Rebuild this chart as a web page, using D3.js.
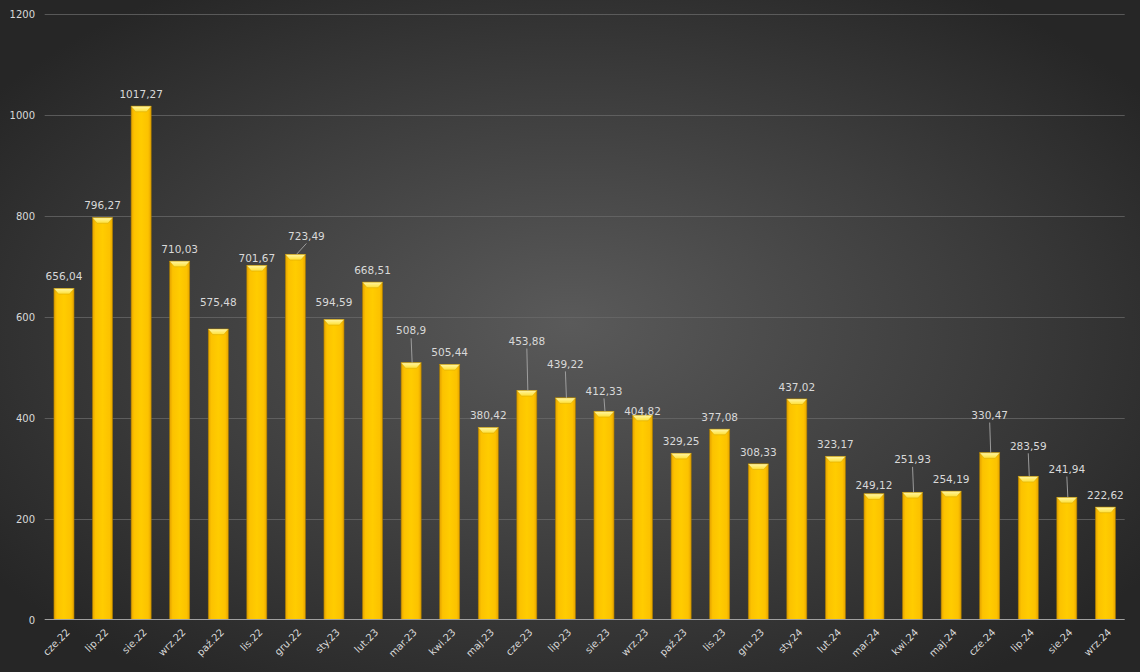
<!DOCTYPE html>
<html>
<head>
<meta charset="utf-8">
<script src="https://cdn.jsdelivr.net/npm/d3@7"></script>
<style>
  html, body { margin: 0; padding: 0; background: #2b2b2b; }
  svg { display: block; }
  text { font-family: "DejaVu Sans", sans-serif; }
</style>
</head>
<body>
<svg id="chart" width="1140" height="672"></svg>
<script>
// ---- data ----
const categories = ["cze.22","lip.22","sie.22","wrz.22","paź.22","lis.22","gru.22","sty.23","lut.23","mar.23","kwi.23","maj.23","cze.23","lip.23","sie.23","wrz.23","paź.23","lis.23","gru.23","sty.24","lut.24","mar.24","kwi.24","maj.24","cze.24","lip.24","sie.24","wrz.24"];
const values = [656.04,796.27,1017.27,710.03,575.48,701.67,723.49,594.59,668.51,508.9,505.44,380.42,453.88,439.22,412.33,404.82,329.25,377.08,308.33,437.02,323.17,249.12,251.93,254.19,330.47,283.59,241.94,222.62];
const yTicks = [0,200,400,600,800,1000,1200];

// ---- layout: label placement tweaks (dx, dy relative to default, leader line) ----
const labelTweaks = {
  "paź.22": {dy: -15},
  "lis.22": {dy: 4.5},
  "gru.22": {dx: 11, dy: -6.5, leader: true},
  "sty.23": {dy: -5.5},
  "mar.23": {dy: -20, leader: true},
  "cze.23": {dy: -37.5, leader: true},
  "lip.23": {dy: -22, leader: true},
  "sie.23": {dy: -8.5, leader: true},
  "wrz.23": {dy: 7.8},
  "mar.24": {dy: 3.7},
  "kwi.24": {dy: -21, leader: true},
  "cze.24": {dy: -25.7, leader: true},
  "lip.24": {dy: -18.6, leader: true},
  "sie.24": {dy: -16.4, leader: true}
};

const W = 1140, H = 672;
const svg = d3.select("#chart");
const defs = svg.append("defs");

// background
const bg = defs.append("radialGradient").attr("id","bg")
  .attr("cx","0.5").attr("cy","0.5").attr("r","0.62")
  .attr("fx","0.5").attr("fy","0.48");
bg.append("stop").attr("offset","0").attr("stop-color","#5a5a5a");
bg.append("stop").attr("offset","0.55").attr("stop-color","#3e3e3e");
bg.append("stop").attr("offset","1").attr("stop-color","#262626");
svg.append("rect").attr("width",W).attr("height",H).attr("fill","url(#bg)");

// bar gradients
const sideGrad = defs.append("linearGradient").attr("id","barSide").attr("x1","0").attr("x2","1").attr("y1","0").attr("y2","0");
[["0","#e5a200"],["0.15","#fcc200"],["0.5","#ffcc00"],["0.85","#fcc200"],["1","#e5a200"]]
  .forEach(([o,c]) => sideGrad.append("stop").attr("offset",o).attr("stop-color",c));
const topGrad = defs.append("linearGradient").attr("id","barTop").attr("x1","0").attr("x2","0").attr("y1","0").attr("y2","1");
topGrad.append("stop").attr("offset","0").attr("stop-color","#fff6a8");
topGrad.append("stop").attr("offset","1").attr("stop-color","#ffe033");

const x = d3.scaleBand().domain(categories).range([44.7, 1124.7]).paddingInner(0.48).paddingOuter(0.24);
const y = d3.scaleLinear().domain([0, 1200]).range([619.5, 14]);

// gridlines
svg.append("g").selectAll("line").data(yTicks.filter(d => d > 0)).join("line")
  .attr("x1", 44.7).attr("x2", 1124.7)
  .attr("y1", d => Math.round(y(d)) + 0.5).attr("y2", d => Math.round(y(d)) + 0.5)
  .attr("stroke", "#6a6a6a").attr("stroke-opacity", 0.75).attr("stroke-width", 1);

// y axis labels
const yAxis = d3.axisLeft(y).tickValues(yTicks).tickSize(0).tickPadding(0).tickFormat(d3.format("d"));
const yg = svg.append("g").attr("transform","translate(35,0)").call(yAxis);
yg.select(".domain").remove();
yg.selectAll("text").attr("fill","#d9d9d9").style("font-size","10px").attr("dy","0.35em");

// bars
const bars = svg.append("g").selectAll("g").data(categories).join("g");
bars.append("rect")
  .attr("x", d => x(d))
  .attr("y", (d,i) => y(values[i]))
  .attr("width", x.bandwidth())
  .attr("height", (d,i) => y(0) - y(values[i]))
  .attr("fill", "url(#barSide)")
  .attr("stroke", "#a67c00").attr("stroke-width", 0.6);
bars.append("path")
  .attr("d", (d,i) => {
    const x0 = x(d), x1 = x(d) + x.bandwidth(), t = y(values[i]);
    return `M${x0},${t}L${x1},${t}L${x1-4.5},${t+5.5}L${x0+4.5},${t+5.5}Z`;
  })
  .attr("fill", "url(#barTop)").attr("stroke","#c99a00").attr("stroke-width",0.4);

// x axis line
svg.append("line").attr("x1",44.7).attr("x2",1124.7).attr("y1",619.5).attr("y2",619.5)
  .attr("stroke","#a0a0a0").attr("stroke-width",1);

// x axis labels
const xAxis = d3.axisBottom(x).tickSize(0).tickPadding(0);
const xg = svg.append("g").attr("transform","translate(0,619.5)").call(xAxis);
xg.select(".domain").remove();
xg.selectAll("text")
  .attr("fill","#d9d9d9").style("font-size","10px")
  .attr("text-anchor","end")
  .attr("transform","translate(4,11) rotate(-45)")
  .attr("dy","0.35em").attr("y",0).attr("x",0);

// data labels
const fmt = v => String(v).replace(".", ",");
const labels = svg.append("g");
categories.forEach((c, i) => {
  const t = labelTweaks[c] || {};
  const cx = x(c) + x.bandwidth() / 2;
  const barTop = y(values[i]);
  const lx = cx + (t.dx || 0);
  const ly = barTop - 12 + (t.dy || 0);
  if (t.leader) {
    labels.append("line")
      .attr("x1", cx + 1).attr("y1", barTop)
      .attr("x2", lx).attr("y2", ly + 7.5)
      .attr("stroke","#a6a6a6").attr("stroke-width",0.9);
  }
  labels.append("text")
    .attr("x", lx).attr("y", ly).attr("dy","0.36em")
    .attr("text-anchor","middle")
    .attr("fill","#d9d9d9").style("font-size","10.5px")
    .text(fmt(values[i]));
});
</script>
</body>
</html>
